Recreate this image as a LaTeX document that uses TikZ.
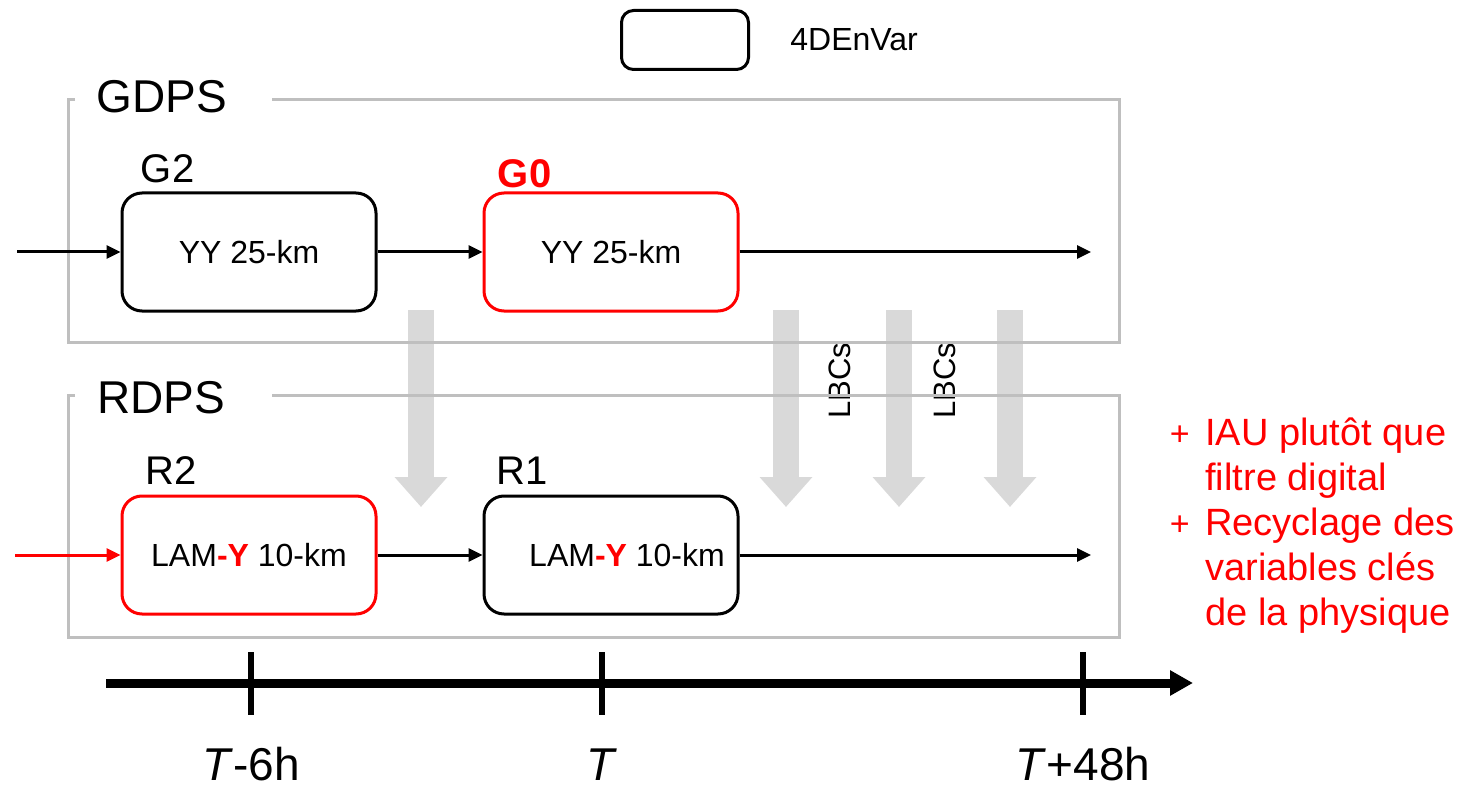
\documentclass[tikz,border=0pt]{standalone}
\usepackage{fontspec}
\setmainfont{Liberation Sans}
\usepackage{tikz}
\usetikzlibrary{arrows.meta,positioning}
\definecolor{ink}{HTML}{000000}
\definecolor{hot}{HTML}{FF0000}
\definecolor{framegray}{HTML}{BFBFBF}
\definecolor{feedgray}{HTML}{D9D9D9}
\tikzset{
  model/.style={draw=ink,rounded corners=10pt,line width=1.5pt,minimum width=127pt,minimum height=59pt,inner sep=0pt,font=\fontsize{16}{19}\selectfont},
  newmodel/.style={model,draw=hot},
  sysframe/.style={draw=framegray,line width=1.5pt},
  systitle/.style={font=\fontsize{23}{27}\selectfont,inner sep=0pt,anchor=base west},
  runlabel/.style={font=\fontsize{20}{24}\selectfont,inner sep=0pt,anchor=base west},
  newlabel/.style={runlabel,font=\fontsize{20}{24}\selectfont\bfseries,text=hot},
  legendtext/.style={font=\fontsize{16}{19}\selectfont,inner sep=0pt},
  lbctext/.style={font=\fontsize{15.5}{18}\selectfont,inner sep=0pt,rotate=90},
  note/.style={font=\fontsize{19}{22.5}\selectfont,text=hot,inner sep=0pt,align=left},
  arr/.style={-{Triangle[length=7pt,width=6.5pt]},line width=1.5pt,draw=ink},
  newarr/.style={arr,draw=hot},
  feed/.style={-{Triangle[length=15pt,width=25.5pt]},line width=13pt,draw=feedgray},
  axis/.style={-{Triangle[length=11.5pt,width=12pt]},line width=4.5pt,draw=ink},
  tickmark/.style={line width=3pt,draw=ink},
  timelabel/.style={font=\fontsize{23}{27}\selectfont,inner sep=0pt,anchor=base}
}
\newcommand{\Yred}{\textcolor{hot}{\bfseries-Y}}
\begin{document}
\begin{tikzpicture}[x=0.5pt,y=-0.5pt,node distance=3mm]
\useasboundingbox (0,0) rectangle (1466,791);
% legend
\node[model,minimum width=63.5pt,minimum height=29.5pt,rounded corners=6pt] (leg) at (685,40) {};
\node[legendtext,right=20pt of leg] (legtxt) {4DEnVar};
% grey feeds from GDPS to RDPS
\foreach \x in {421,786,899,1010} \draw[feed] (\x,310) -- (\x,507);
\node[lbctext] (lbc1) at (840,381) {LBCs};
\node[lbctext] (lbc2) at (945,381) {LBCs};
% system frames
\draw[sysframe] (75,100) -| (68,342) -| (1119,100) -- (272,100);
\node[systitle] (gdps) at (96,113) {GDPS};
\draw[sysframe] (75,395) -| (68,637) -| (1119,395) -- (272,395);
\node[systitle] (rdps) at (97,413) {RDPS};
% GDPS
\node[model] (g2) at (249,252) {YY 25-km};
\node[newmodel,right=52.5pt of g2] (g0) {YY 25-km};
\node[runlabel] (g2lab) at ([shift={(20,-9)}]g2.north west) {G2};
\node[newlabel] (g0lab) at ([shift={(15,-4)}]g0.north west) {G0};
\coordinate (gin) at (17,252);
\coordinate (gout) at (1091,252);
\draw[arr] (gin) -- (g2);
\draw[arr] (g2) -- (g0);
\draw[arr] (g0) -- (gout);
% RDPS
\node[newmodel,below=91pt of g2] (r2) {LAM\Yred{} 10-km};
\node[model,right=52.5pt of r2] (r1) {\hspace{16pt}LAM\Yred{} 10-km};
\node[runlabel] (r2lab) at ([shift={(25,-10)}]r2.north west) {R2};
\node[runlabel] (r1lab) at ([shift={(14,-10)}]r1.north west) {R1};
\coordinate (rin) at (15,555);
\coordinate (rout) at (1091,555);
\draw[newarr] (rin) -- (r2);
\draw[arr] (r2) -- (r1);
\draw[arr] (r1) -- (rout);
% changes (base = last line)
\node[note,anchor=base west] (iau) at (1205,490) {IAU plutôt que\\filtre digital};
\node[note,anchor=base west] (recyc) at (1205,625) {Recyclage des\\variables clés\\de la physique};
\node[note,anchor=base east,font=\fontsize{17}{20}\selectfont] (p1) at (1190,445) {+};
\node[note,anchor=base east,font=\fontsize{17}{20}\selectfont] (p2) at (1190,535) {+};
% time axis
\coordinate (tl0) at (106,683);
\coordinate (tl1) at (1193,683);
\draw[axis] (tl0) -- (tl1);
\foreach \x/\lab in {251/{\textit{T}-6h},602/{\textit{T}},1083/{\textit{T}+48h}} {
  \draw[tickmark] (\x,652) -- (\x,715);
  \node[timelabel] (tl\x) at (\x,780) {\lab};
}
\end{tikzpicture}
\end{document}
